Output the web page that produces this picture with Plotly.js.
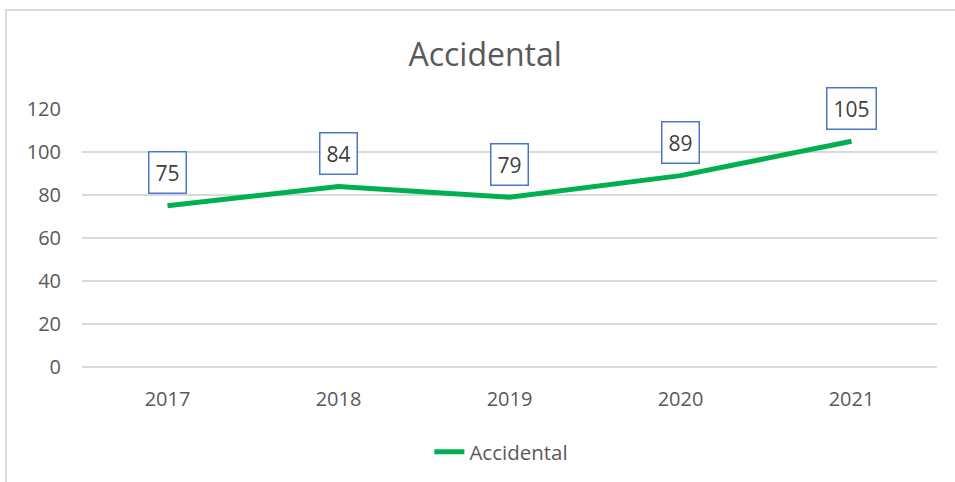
<!DOCTYPE html>
<html>
<head>
<meta charset="utf-8">
<script src="https://cdn.plot.ly/plotly-3.0.1.min.js"></script>
<style>
  html, body { margin: 0; padding: 0; background: #ffffff; }
  #wrap { position: relative; width: 955px; height: 482px; }
  #chart { position: absolute; left: 0; top: 0; width: 955px; height: 482px; }
  #frame { position: absolute; left: 5px; top: 9px; width: 960px; height: 480px;
           border-left: 2px solid #d9d9d9; border-top: 2px solid #d9d9d9; pointer-events: none; }
</style>
</head>
<body>
<div id="wrap">
  <div id="chart"></div>
  <div id="frame"></div>
</div>
<script>
const years = ['2017', '2018', '2019', '2020', '2021'];
const accidental = [75, 84, 79, 89, 105];
const seriesName = 'Accidental';
const chartTitle = 'Accidental';
const yTicks = [0, 20, 40, 60, 80, 100, 120];

const textColor = '#595959';
const font = 'Open Sans, Noto Sans, sans-serif';

const trace = {
  x: years,
  y: accidental,
  type: 'scatter',
  mode: 'lines',
  name: seriesName,
  line: { color: '#00B050', width: 5 },
  hoverinfo: 'x+y'
};

// category index used for x so the year string is not read as a numeric position
const annotations = years.map((yr, i) => ({
  x: i,
  y: accidental[i],
  xref: 'x',
  yref: 'y',
  text: String(accidental[i]),
  showarrow: false,
  yshift: 33,
  font: { family: font, size: 21, color: '#404040' },
  bgcolor: '#ffffff',
  bordercolor: '#4a78c8',
  borderwidth: 1.5,
  borderpad: 6
}));

const layout = {
  width: 955,
  height: 482,
  margin: { l: 82, r: 18, t: 109, b: 115, autoexpand: false },
  paper_bgcolor: '#ffffff',
  plot_bgcolor: '#ffffff',
  title: {
    text: chartTitle,
    font: { family: font, size: 32, color: textColor },
    xref: 'container',
    yref: 'container',
    x: 0.508,
    xanchor: 'center',
    y: 1 - 55 / 482,
    yanchor: 'middle'
  },
  xaxis: {
    type: 'category',
    range: [-0.5, 4.5],
    showgrid: false,
    zeroline: false,
    showline: false,
    ticks: '',
    ticklabelstandoff: 18,
    tickfont: { family: font, size: 20, color: textColor },
    fixedrange: true
  },
  yaxis: {
    range: [0, 120],
    tickvals: yTicks,
    ticktext: yTicks.map(String),
    showgrid: true,
    gridcolor: '#d9d9d9',
    gridwidth: 1.3,
    zeroline: true,
    zerolinecolor: '#d9d9d9',
    zerolinewidth: 1.3,
    showline: false,
    ticks: '',
    ticklabelstandoff: 20,
    tickfont: { family: font, size: 20, color: textColor },
    fixedrange: true
  },
  showlegend: true,
  legend: {
    orientation: 'h',
    xref: 'container',
    yref: 'container',
    x: 0.525,
    xanchor: 'center',
    y: 1 - 452 / 482,
    yanchor: 'middle',
    font: { family: font, size: 20.5, color: textColor },
    bgcolor: 'rgba(0,0,0,0)'
  },
  annotations: annotations
};

Plotly.newPlot('chart', [trace], layout, { displayModeBar: false, staticPlot: true });
</script>
</body>
</html>
